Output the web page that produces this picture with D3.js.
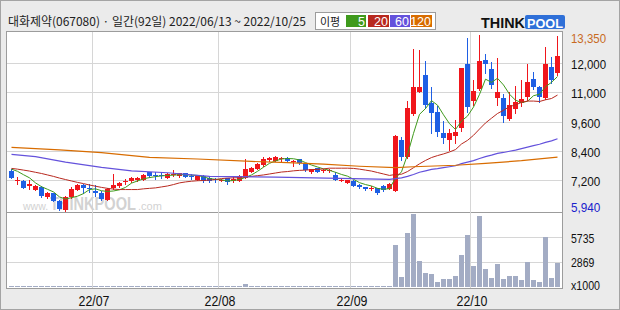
<!DOCTYPE html>
<html>
<head>
<meta charset="utf-8">
<script src="https://cdn.jsdelivr.net/npm/d3@7"></script>
<style>
  body { margin: 0; background: #ebebeb; }
  svg { display: block; }
</style>
</head>
<body>
<div id="chart"></div>
<script>
// daily candles 2022/06/13 ~ 2022/10/25 (92 trading days)
const opens = [7590, 7210, 7190, 6990, 6810, 6930, 6490, 6670, 6360, 5950,
  6490, 6810, 7020, 6890, 6780, 6680, 6400, 6870, 6980, 7170,
  7160, 7230, 7230, 7550, 7410, 7440, 7320, 7450, 7370, 7510,
  7370, 7230, 7390, 7320, 7250, 7210, 7300, 7170, 7190, 7320,
  7570, 7680, 7830, 8040, 8020, 8130, 8130, 7950, 8090, 7920,
  7550, 7710, 7630, 7600, 7440, 7190, 7090, 7200, 7020, 6920,
  6840, 6880, 6960, 6860, 6780, 8880, 8170, 9980, 11030, 11600,
  10510, 10090, 9150, 8880, 9050, 9360, 11990, 10610, 11130, 12160,
  11810, 10730, 10750, 9760, 10250, 10510, 10810, 11470, 11190, 10750,
  11880, 11680];
const highs = [7680, 7350, 7230, 7210, 7000, 6980, 6720, 6680, 6400, 6550,
  6930, 7060, 7040, 7040, 7020, 6760, 6870, 7480, 7150, 7270,
  7350, 7350, 7480, 7560, 7540, 7560, 7500, 7640, 7520, 7520,
  7480, 7390, 7420, 7350, 7320, 7250, 7310, 7340, 7420, 8100,
  7750, 7930, 8160, 8180, 8200, 8180, 8160, 8060, 8100, 7930,
  7680, 7720, 7680, 7660, 7570, 7320, 7230, 7230, 7060, 6930,
  6980, 6890, 7020, 7080, 9100, 8980, 10600, 12680, 12640, 12110,
  11190, 10370, 9660, 9350, 9710, 11860, 13230, 11430, 13350, 12440,
  12060, 12240, 10940, 11020, 11230, 11430, 12000, 11690, 11240, 12780,
  12300, 13280];
const lows = [7310, 7060, 6870, 6850, 6790, 6510, 6470, 6340, 5960, 5940,
  6470, 6790, 6680, 6720, 6570, 6380, 6380, 6830, 6930, 7060,
  7140, 7190, 7210, 7350, 7270, 7310, 7310, 7370, 7350, 7330,
  7250, 7210, 7140, 7140, 7120, 7190, 7060, 7140, 7170, 7290,
  7560, 7660, 7780, 7990, 7990, 7990, 7970, 7790, 7890, 7600,
  7530, 7540, 7570, 7540, 7210, 7170, 7080, 6980, 6890, 6810,
  6810, 6640, 6760, 6850, 6740, 8060, 8140, 9950, 11010, 10280,
  9180, 9040, 8750, 8470, 8750, 9250, 10090, 10420, 11090, 11670,
  11160, 10420, 9630, 9730, 10040, 10370, 10650, 11110, 10560, 10700,
  11330, 11590];
const closes = [7320, 7240, 6900, 7040, 6980, 6550, 6690, 6350, 6000, 6520,
  6830, 7020, 6890, 6860, 6670, 6430, 6840, 7010, 7100, 7190,
  7290, 7320, 7440, 7380, 7380, 7410, 7460, 7470, 7500, 7340,
  7350, 7370, 7170, 7170, 7210, 7220, 7130, 7250, 7390, 7680,
  7710, 7890, 8100, 8150, 8180, 8150, 7990, 8020, 7920, 7620,
  7660, 7560, 7650, 7620, 7220, 7210, 7210, 6990, 6920, 6830,
  6900, 6690, 6820, 7060, 9040, 8190, 10260, 11200, 11200, 10420,
  10030, 9200, 8970, 9150, 9220, 11830, 10320, 11060, 12110, 11990,
  11260, 11030, 9910, 10420, 10570, 10700, 11360, 11180, 10810, 11970,
  11420, 12350];
// volume, thousands of shares
const volumes = [110, 95, 120, 105, 90, 130, 100, 115, 140, 125,
  110, 95, 100, 90, 105, 120, 110, 130, 95, 100,
  90, 85, 100, 95, 90, 105, 100, 95, 90, 85,
  95, 100, 90, 95, 85, 90, 95, 100, 110, 350,
  130, 120, 115, 100, 95, 90, 100, 95, 90, 100,
  95, 90, 85, 95, 100, 110, 105, 95, 100, 110,
  95, 100, 105, 120, 4850, 1190, 6230, 8420, 3000, 1620,
  1500, 580, 920, 920, 1270, 3690, 6000, 2420, 8190, 2080,
  1040, 2650, 920, 1270, 1270, 810, 2890, 810, 580, 5770,
  1040, 2770];
// moving averages as seen on the chart
const ma5 = [7670, 7580, 7440, 7310, 7100, 6940, 6830, 6720, 6510, 6420,
  6480, 6540, 6650, 6820, 6850, 6770, 6740, 6760, 6810, 6910,
  7090, 7180, 7270, 7320, 7360, 7390, 7410, 7420, 7440, 7440,
  7420, 7410, 7350, 7280, 7250, 7230, 7180, 7200, 7240, 7330,
  7430, 7580, 7750, 7910, 8010, 8090, 8110, 8100, 8050, 7940,
  7840, 7760, 7680, 7620, 7540, 7450, 7380, 7250, 7110, 7030,
  6970, 6870, 6830, 6860, 7300, 7560, 8270, 9150, 9980, 10250,
  10620, 10410, 9960, 9550, 9310, 9670, 9900, 10320, 10910, 11460,
  11350, 11490, 11260, 10920, 10640, 10530, 10590, 10850, 10920, 11200,
  11350, 11550];
const ma20 = [7700, 7670, 7630, 7590, 7540, 7490, 7430, 7370, 7300, 7240,
  7180, 7120, 7070, 7010, 6960, 6910, 6870, 6840, 6820, 6820,
  6820, 6820, 6850, 6870, 6890, 6930, 6970, 7030, 7100, 7140,
  7170, 7190, 7200, 7220, 7240, 7280, 7300, 7310, 7320, 7350,
  7370, 7400, 7430, 7470, 7510, 7550, 7570, 7600, 7620, 7630,
  7650, 7660, 7680, 7710, 7710, 7710, 7710, 7700, 7670, 7630,
  7590, 7530, 7470, 7410, 7450, 7460, 7570, 7730, 7890, 8030,
  8150, 8230, 8300, 8380, 8480, 8710, 8860, 9070, 9330, 9580,
  9800, 10020, 10170, 10340, 10420, 10540, 10600, 10600, 10580, 10660,
  10720, 10880];
const ma60 = [[0, 8280], [4, 8190], [9, 7960], [15, 7740], [20, 7600], [26, 7520],
  [33, 7370], [44, 7340], [59, 7270], [63, 7250], [64, 7280], [65, 7310], [66, 7370],
  [67, 7450], [68, 7540], [69, 7600], [70, 7660], [71, 7690], [72, 7730], [73, 7770],
  [74, 7810], [75, 7900], [76, 7960], [77, 8020], [78, 8110], [79, 8190], [80, 8250],
  [81, 8320], [82, 8360], [83, 8410], [84, 8460], [85, 8520], [86, 8580], [87, 8640],
  [88, 8700], [89, 8780], [90, 8840], [91, 8930]];
const ma120 = [[0, 8570], [8, 8470], [15, 8350], [23, 8160], [31, 8090], [40, 7990],
  [46, 7940], [52, 7880], [58, 7790], [64, 7730], [67, 7770], [74, 7830], [79, 7910],
  [85, 8020], [91, 8170]];

const priceTicks = [7200, 8400, 9600, 11000, 12000];
const priceMin = 5940, priceMax = 13350;
const volTicks = [2869, 5735];
const monthStart = [14, 35, 57, 77];
const monthLabels = ["22/07", "22/08", "22/09", "22/10"];
const maNames = ["5", "20", "60", "120"];

const RED = "#f0161c", BLUE = "#1e5fe4";
const maColors = ["#3f9a1c", "#b8291f", "#6452dc", "#d86c00"];
const fmt = d3.format(",");

const svg = d3.select("#chart").append("svg")
    .attr("width", 620).attr("height", 310)
    .style("font-family", "'Liberation Sans', Arial, sans-serif");

svg.append("rect").attr("x", 0.5).attr("y", 0.5).attr("width", 619).attr("height", 309)
    .attr("fill", "#ebebeb").attr("stroke", "#a4a4a4");

// scales
const x = d3.scaleBand().domain(d3.range(closes.length)).range([8, 560]);
const y = d3.scaleLinear()
    .domain([priceMin].concat(priceTicks, [priceMax]))
    .range([210.5, 180.5, 151.5, 122.5, 92.5, 63.5, 35]);
const yv = d3.scaleLinear().domain([0, 5735]).range([287, 237.5]);

// panels
const frame = svg.append("g").attr("shape-rendering", "crispEdges");
frame.append("rect").attr("x", 6.5).attr("y", 31.5).attr("width", 556).attr("height", 181)
    .attr("fill", "#fff").attr("stroke", "#9c9c9c");
frame.append("rect").attr("x", 6.5).attr("y", 212.5).attr("width", 556).attr("height", 76)
    .attr("fill", "#fff").attr("stroke", "#9c9c9c");

// grid
const grid = svg.append("g").attr("stroke", "#d6d6d6").attr("shape-rendering", "crispEdges");
grid.selectAll(".hp").data(priceTicks).join("line")
    .attr("x1", 7).attr("x2", 562)
    .attr("y1", d => y(d)).attr("y2", d => y(d));
grid.selectAll(".hv").data(volTicks).join("line")
    .attr("x1", 7).attr("x2", 562)
    .attr("y1", d => yv(d)).attr("y2", d => yv(d));
grid.selectAll(".vx").data(monthStart).join("line")
    .attr("x1", d => x(d) + 0.5).attr("x2", d => x(d) + 0.5)
    .attr("y1", 32).attr("y2", 288);

// watermark
const wm = svg.append("g").attr("fill", "#d2d2d2");
wm.append("text").attr("x", 23).attr("y", 210).attr("font-size", 10.5).text("www.");
wm.append("text").attr("transform", "translate(50,210) scale(1,1.25)")
    .attr("font-size", 14.6).attr("font-weight", "bold").text("THINKPOOL");
wm.append("text").attr("x", 138).attr("y", 210).attr("font-size", 11).text(".com");

// volume bars
svg.append("g").attr("shape-rendering", "crispEdges")
  .selectAll("rect").data(volumes).join("rect")
    .attr("x", (d, i) => x(i) + 1).attr("width", 5)
    .attr("y", d => Math.min(Math.round(yv(d)), 286))
    .attr("height", d => 287 - Math.min(Math.round(yv(d)), 286))
    .attr("fill", "#a3acc4");

// candles
const candles = closes.map((c, i) => ({i: i, o: opens[i], h: highs[i], l: lows[i], c: c}));
const gC = svg.append("g").attr("shape-rendering", "crispEdges");
gC.selectAll("line").data(candles).join("line")
    .attr("x1", d => x(d.i) + 3.5).attr("x2", d => x(d.i) + 3.5)
    .attr("y1", d => Math.round(y(d.h))).attr("y2", d => Math.round(y(d.l)) + 1)
    .attr("stroke", d => d.c >= d.o ? RED : BLUE);
gC.selectAll("rect").data(candles).join("rect")
    .attr("x", d => x(d.i) + 1).attr("width", 5)
    .attr("y", d => Math.round(y(Math.max(d.o, d.c))))
    .attr("height", d => Math.max(1, Math.round(y(Math.min(d.o, d.c))) - Math.round(y(Math.max(d.o, d.c)))))
    .attr("fill", d => d.c >= d.o ? RED : BLUE);

// moving averages
const line = d3.line().x(d => x(d[0]) + 3.5).y(d => y(d[1]));
const maSeries = [ma5.map((v, i) => [i, v]), ma20.map((v, i) => [i, v]), ma60, ma120];
svg.append("g").attr("fill", "none")
  .selectAll("path").data(maSeries).join("path")
    .attr("d", line)
    .attr("stroke", (d, k) => maColors[k])
    .attr("stroke-width", (d, k) => k < 2 ? 1 : 1.2);

// right axis labels
const lab = svg.append("g").attr("font-size", 13.5).attr("fill", "#111");
lab.selectAll(".pl").data(priceTicks).join("text")
    .attr("x", 571).attr("y", d => y(d) + 5)
    .attr("textLength", d => fmt(d).length * 5.85).attr("lengthAdjust", "spacingAndGlyphs")
    .text(d => fmt(d));
lab.append("text").attr("x", 571).attr("y", y(priceMax) + 8.3).attr("fill", "#c86a1e")
    .attr("textLength", 35).attr("lengthAdjust", "spacingAndGlyphs").text(fmt(priceMax));
lab.append("text").attr("x", 571).attr("y", y(priceMin) + 1.2).attr("fill", "#1a22cc")
    .attr("textLength", 29.3).attr("lengthAdjust", "spacingAndGlyphs").text(fmt(priceMin));
lab.selectAll(".vl").data(volTicks).join("text")
    .attr("x", 571).attr("y", d => yv(d) + 5)
    .attr("textLength", 23.4).attr("lengthAdjust", "spacingAndGlyphs")
    .text(d => d);
lab.append("text").attr("x", 571).attr("y", 290)
    .attr("textLength", 29).attr("lengthAdjust", "spacingAndGlyphs").text("x1000");

// date labels
svg.append("g").attr("font-size", 14).attr("fill", "#111").attr("text-anchor", "middle")
  .selectAll("text").data(monthStart).join("text")
    .attr("x", d => x(d) + 2).attr("y", 306)
    .attr("textLength", 31).attr("lengthAdjust", "spacingAndGlyphs")
    .text((d, k) => monthLabels[k]);

// header
svg.append("text").attr("x", 8).attr("y", 26)
    .attr("font-family", "'Noto Sans CJK KR', sans-serif").attr("font-size", 12).attr("fill", "#222")
    .attr("textLength", 298).attr("lengthAdjust", "spacingAndGlyphs")
    .text("대화제약(067080) · 일간(92일) 2022/06/13 ~ 2022/10/25");

// legend
const leg = svg.append("g");
leg.append("rect").attr("x", 315.5).attr("y", 12.5).attr("width", 120).attr("height", 17)
    .attr("fill", "#fff").attr("stroke", "#9c9c9c").attr("shape-rendering", "crispEdges");
leg.append("text").attr("x", 320).attr("y", 26)
    .attr("font-family", "'Noto Sans CJK KR', sans-serif").attr("font-size", 11).attr("fill", "#222")
    .text("이평");
const boxX = [346, 368, 390, 411], boxW = [20, 21, 20, 21];
maNames.forEach((n, k) => {
  leg.append("rect").attr("x", boxX[k]).attr("y", 15).attr("width", boxW[k]).attr("height", 12)
      .attr("fill", maColors[k]);
  leg.append("text").attr("x", boxX[k] + boxW[k] - 1).attr("y", 25.5)
      .attr("text-anchor", "end").attr("font-size", 12.5).attr("fill", "#fff").text(n);
});

// logo
const logo = svg.append("g").attr("font-weight", "bold");
logo.append("text").attr("x", 481).attr("y", 28).attr("font-size", 14.4).attr("fill", "#111")
    .text("THINK");
logo.append("rect").attr("x", 525).attr("y", 15).attr("width", 40).attr("height", 14).attr("rx", 2)
    .attr("fill", "#2f70d8");
logo.append("text").attr("x", 527).attr("y", 28).attr("font-size", 12.7).attr("fill", "#fff")
    .text("POOL");
</script>
</body>
</html>
